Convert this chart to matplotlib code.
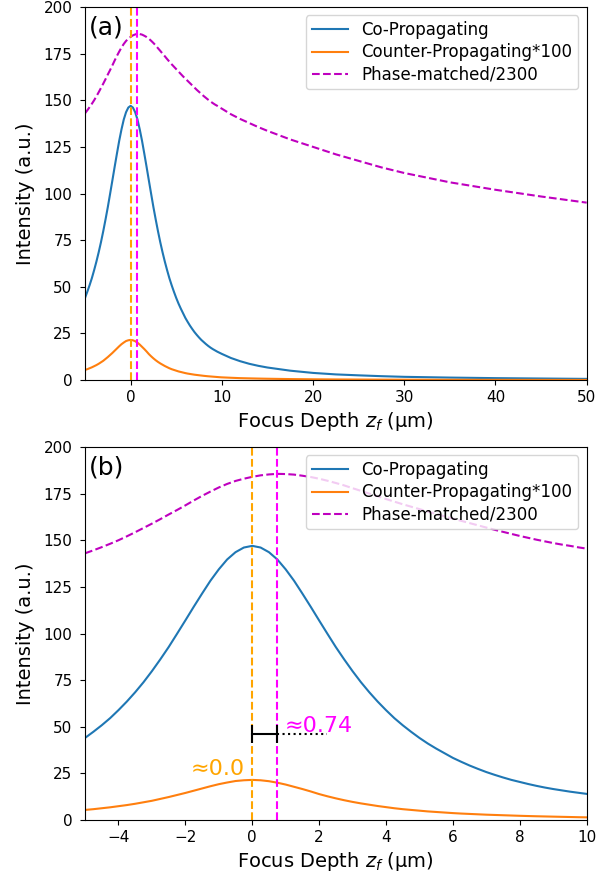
import numpy as np
import matplotlib
matplotlib.use("Agg")
import matplotlib.pyplot as plt

# focus depth (um) and the three curves
z_f = [-5, -4.75, -4.5, -4.25, -4, -3.75, -3.5, -3.25, -3, -2.75, -2.5, -2.25,
       -2, -1.75, -1.5, -1.25, -1, -0.75, -0.5, -0.25, 0, 0.25, 0.5, 0.75,
       1, 1.25, 1.5, 1.75, 2, 2.25, 2.5, 2.75, 3, 3.25, 3.5, 3.75,
       4, 4.25, 4.5, 4.75, 5, 5.25, 5.5, 5.75, 6, 6.25, 6.5, 6.75,
       7, 7.25, 7.5, 7.75, 8, 8.25, 8.5, 8.75, 9, 9.25, 9.5, 9.75, 10,
       11, 12, 13, 14, 15, 17.5, 20, 22.5, 25, 27.5, 30, 35, 40, 45, 50]
co_prop = [44.0, 47.3, 50.8, 54.6, 58.9, 63.5, 68.5, 73.9, 79.8, 86.1, 92.7, 99.8,
           107.0, 114.3, 121.4, 128.3, 134.4, 139.7, 143.6, 146.1, 147.0, 146.1, 143.6, 139.7,
           134.4, 128.3, 121.4, 114.3, 107.0, 99.8, 92.7, 86.1, 79.8, 73.9, 68.5, 63.5,
           58.9, 54.6, 50.8, 47.3, 44.0, 41.0, 38.3, 35.8, 33.3, 31.2, 29.2, 27.4,
           25.7, 24.2, 22.8, 21.5, 20.4, 19.3, 18.3, 17.4, 16.6, 15.9, 15.2, 14.6, 14.0,
           11.8, 10.1, 8.7, 7.6, 6.7, 5.0, 3.8, 3.0, 2.5, 2.05, 1.7, 1.3, 1.0, 0.8, 0.6]
counter_prop = [5.4, 5.8, 6.3, 6.8, 7.4, 8.0, 8.7, 9.5, 10.3, 11.3, 12.3, 13.4,
                14.5, 15.7, 16.9, 18.1, 19.2, 20.1, 20.9, 21.3, 21.5, 21.3, 20.8, 20.0,
                19.0, 17.8, 16.6, 15.3, 13.9, 12.7, 11.6, 10.6, 9.7, 8.9, 8.2, 7.5,
                6.9, 6.3, 5.8, 5.4, 5.0, 4.6, 4.3, 4.0, 3.7, 3.45, 3.25, 3.05,
                2.85, 2.7, 2.55, 2.4, 2.25, 2.12, 2.0, 1.9, 1.8, 1.7, 1.6, 1.5, 1.42,
                1.2, 1.0, 0.88, 0.77, 0.68, 0.5, 0.38, 0.3, 0.25, 0.2, 0.17, 0.13, 0.1, 0.08, 0.06]
phase_matched = [143.0, 144.6, 146.3, 148.1, 150.0, 152.1, 154.3, 156.6, 158.9, 161.3, 163.8, 166.2,
                 168.7, 171.3, 173.8, 176.1, 178.3, 180.2, 181.8, 183.0, 184.0, 184.8, 185.3, 185.6,
                 185.5, 185.2, 184.6, 183.9, 183.0, 181.9, 180.7, 179.4, 177.9, 176.5, 175.0, 173.6,
                 172.1, 170.7, 169.3, 168.0, 166.7, 165.4, 164.1, 162.8, 161.6, 160.4, 159.2, 158.0,
                 156.8, 155.6, 154.5, 153.4, 152.3, 151.3, 150.3, 149.4, 148.5, 147.7, 147.0, 146.2, 145.5,
                 142.5, 140.0, 137.8, 135.6, 133.6, 129.0, 125.0, 121.0, 117.5, 114.0, 111.0,
                 106.0, 102.0, 98.4, 95.1]

peak_counter = 0.0
peak_phase = 0.74
bracket_y = 46
dotted_end = 2.25

fig = plt.figure(figsize=(6.16, 8.77), dpi=100)
axA = fig.add_axes([0.138, 0.5667, 0.8144, 0.4253])
axB = fig.add_axes([0.138, 0.065, 0.8144, 0.4253])

for ax, xlim, tag in [(axA, (-5, 50), "(a)"), (axB, (-5, 10), "(b)")]:
    ax.plot(z_f, co_prop, color="C0", lw=1.5, label="Co-Propagating")
    ax.plot(z_f, counter_prop, color="C1", lw=1.5, label="Counter-Propagating*100")
    ax.plot(z_f, phase_matched, "m--", lw=1.5, label="Phase-matched/2300")
    ax.axvline(peak_counter, color="orange", ls="--", lw=1.5)
    ax.axvline(peak_phase, color="magenta", ls="--", lw=1.5)
    ax.set_xlim(*xlim)
    ax.set_ylim(0, 200)
    ax.set_yticks(np.arange(0, 201, 25))
    ax.tick_params(labelsize=11)
    ax.tick_params(axis="y", pad=5.5)
    ax.set_xlabel("Focus Depth $z_f$ (μm)", fontsize=14)
    ax.set_ylabel("Intensity (a.u.)", fontsize=14, labelpad=6)
    ax.legend(loc="upper right", fontsize=12, labelspacing=0.25, borderpad=0.35,
              handlelength=2.2)
    ax.text(0.008, 0.978, tag, transform=ax.transAxes, ha="left", va="top", fontsize=18)

# shift marker on panel (b)
axB.plot([peak_counter, peak_phase], [bracket_y, bracket_y], color="k", lw=1.5)
axB.plot([peak_counter, peak_phase], [bracket_y, bracket_y], ls="none", marker="|",
         color="k", ms=13, mew=1.5)
axB.plot([peak_phase, dotted_end], [bracket_y, bracket_y], "k:", lw=1.5)
axB.text(peak_phase + 0.22, bracket_y + 1.3, "≈0.74", color="magenta", fontsize=16,
         ha="left", va="baseline")
axB.text(peak_counter - 0.22, 24, "≈0.0", color="orange", fontsize=16,
         ha="right", va="baseline")

fig.savefig("out.png", dpi=100)
